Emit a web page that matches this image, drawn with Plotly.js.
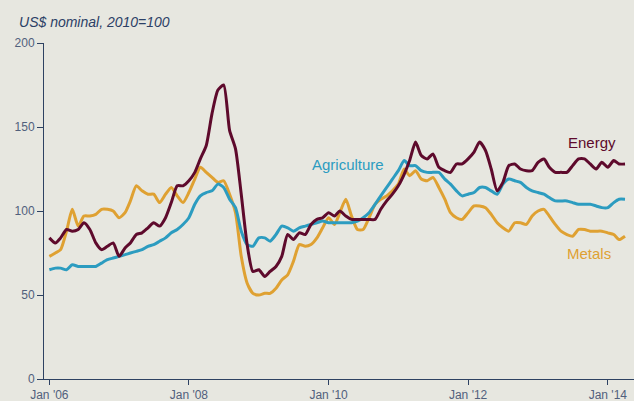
<!DOCTYPE html>
<html>
<head>
<meta charset="utf-8">
<script src="https://cdn.plot.ly/plotly-3.0.1.min.js"></script>
<style>
  html, body { margin: 0; padding: 0; background: #e7e7e0; }
  #chart { width: 634px; height: 401px; }
</style>
</head>
<body>
<div id="chart"></div>
<script>
// Monthly series, Jan 2006 .. Apr 2014 (US$ nominal, 2010=100)
const startYear = 2006;
const energy = [
  84, 81, 84, 89, 88, 89, 93, 89, 81, 77, 79, 81,
  73, 78, 81, 86, 87, 90, 93, 91, 96, 105, 115, 115,
  118, 123, 131, 139, 158, 172, 175, 148, 137, 110, 80, 64,
  65, 61, 64, 67, 73, 86, 83, 87, 86, 92, 95, 96,
  99, 97, 100, 97, 95, 95, 95, 95, 95, 101, 106, 110,
  115, 122, 130, 141, 133, 131, 134, 126, 124, 123, 128, 128,
  131, 135, 141, 136, 125, 112, 117, 127, 128, 125, 124, 124,
  129, 131, 126, 123, 123, 123, 127, 131, 131, 128, 125, 129,
  126, 130, 128, 128
];
const agriculture = [
  65, 66, 66, 65, 68, 67, 67, 67, 67, 69, 71, 72,
  73, 74, 75, 76, 77, 79, 80, 82, 84, 87, 89, 92,
  96, 104, 109, 111, 112, 116, 114, 107, 102, 88, 80, 79,
  84, 84, 82, 86, 91, 90, 88, 90, 91, 92, 93, 94,
  93, 93, 93, 93, 93, 94, 96, 99, 104, 109, 114, 119,
  124, 130, 127, 127, 124, 123, 123, 123, 119, 116, 112, 109,
  110, 111, 114, 114, 112, 110, 116, 119, 118, 117, 114, 112,
  111, 110, 108, 106, 106, 106, 105, 104, 104, 104, 103, 102,
  102, 105, 107, 107
];
const metals = [
  73, 75, 77, 88, 101, 91, 97, 97, 98, 101, 101, 100,
  96, 99, 106, 115, 112, 110, 110, 105, 110, 114, 109, 105,
  111, 119, 126, 123, 120, 117, 118, 110, 99, 73, 57, 51,
  50, 51, 51, 54, 59, 62, 70, 80, 79, 80, 84, 90,
  96, 92, 99, 107, 97, 89, 89, 96, 104, 107, 109, 112,
  116, 125, 121, 124, 119, 118, 120, 114, 107, 99, 96, 95,
  99, 103, 103, 102, 98, 93, 90, 88, 93, 93, 92, 97,
  100, 101, 97, 92, 88, 86, 85, 89, 89, 88, 88, 88,
  87, 86, 83, 85
];
const tickVals = ['2006-01-01', '2008-01-01', '2010-01-01', '2012-01-01', '2014-01-01'];
const tickText = ["Jan '06", "Jan '08", "Jan '10", "Jan '12", "Jan '14"];
const seriesNames = ['Energy', 'Agriculture', 'Metals'];

function monthDates(n) {
  const out = [];
  for (let i = 0; i < n; i++) {
    const y = startYear + Math.floor(i / 12);
    const m = (i % 12) + 1;
    out.push(y + '-' + String(m).padStart(2, '0') + '-01');
  }
  return out;
}
const dates = monthDates(energy.length);

const colEnergy = '#5e0a2c';
const colAgri = '#2c9cc0';
const colMetals = '#dfa132';
const axisCol = '#2e4262';
const tickCol = '#51607c';
const font = 'Liberation Sans, Arial, sans-serif';

function lineStyle(c) { return { color: c, width: 3, shape: 'spline', smoothing: 0.6 }; }

const traces = [
  { x: dates, y: metals, name: seriesNames[2], type: 'scatter', mode: 'lines', line: lineStyle(colMetals) },
  { x: dates, y: agriculture, name: seriesNames[1], type: 'scatter', mode: 'lines', line: lineStyle(colAgri) },
  { x: dates, y: energy, name: seriesNames[0], type: 'scatter', mode: 'lines', line: lineStyle(colEnergy) }
];

const layout = {
  width: 634, height: 401,
  paper_bgcolor: '#e7e7e0', plot_bgcolor: '#e7e7e0',
  margin: { l: 44, r: 0, t: 43, b: 22 },
  showlegend: false,
  font: { family: font, size: 12, color: tickCol },
  title: {
    text: 'US$ nominal, 2010=100',
    x: 0.03, xanchor: 'left', y: 0.945, yanchor: 'middle',
    font: { family: font, size: 14, color: '#2c4066', style: 'italic' }
  },
  xaxis: {
    type: 'date',
    range: ['2005-12-04', '2014-05-18'],
    tickvals: tickVals, ticktext: tickText,
    ticks: 'outside', ticklen: 5, tickcolor: axisCol, tickwidth: 1,
    showline: true, linecolor: axisCol, linewidth: 1,
    showgrid: false, zeroline: false,
    tickfont: { family: font, size: 12, color: tickCol }
  },
  yaxis: {
    range: [0, 200],
    tickvals: [0, 50, 100, 150, 200],
    ticks: 'outside', ticklen: 6, tickcolor: axisCol, tickwidth: 1,
    showline: true, linecolor: axisCol, linewidth: 1,
    showgrid: false, zeroline: false,
    tickfont: { family: font, size: 12, color: tickCol }
  },
  annotations: [
    { x: '2013-10-10', y: 140.5, xref: 'x', yref: 'y', text: seriesNames[0], showarrow: false,
      font: { family: font, size: 15, color: colEnergy } },
    { x: '2010-04-11', y: 127.4, xref: 'x', yref: 'y', text: seriesNames[1], showarrow: false,
      font: { family: font, size: 15, color: colAgri } },
    { x: '2013-09-25', y: 74.5, xref: 'x', yref: 'y', text: seriesNames[2], showarrow: false,
      font: { family: font, size: 15, color: colMetals } }
  ]
};

Plotly.newPlot('chart', traces, layout, { displayModeBar: false, staticPlot: true });
</script>
</body>
</html>
